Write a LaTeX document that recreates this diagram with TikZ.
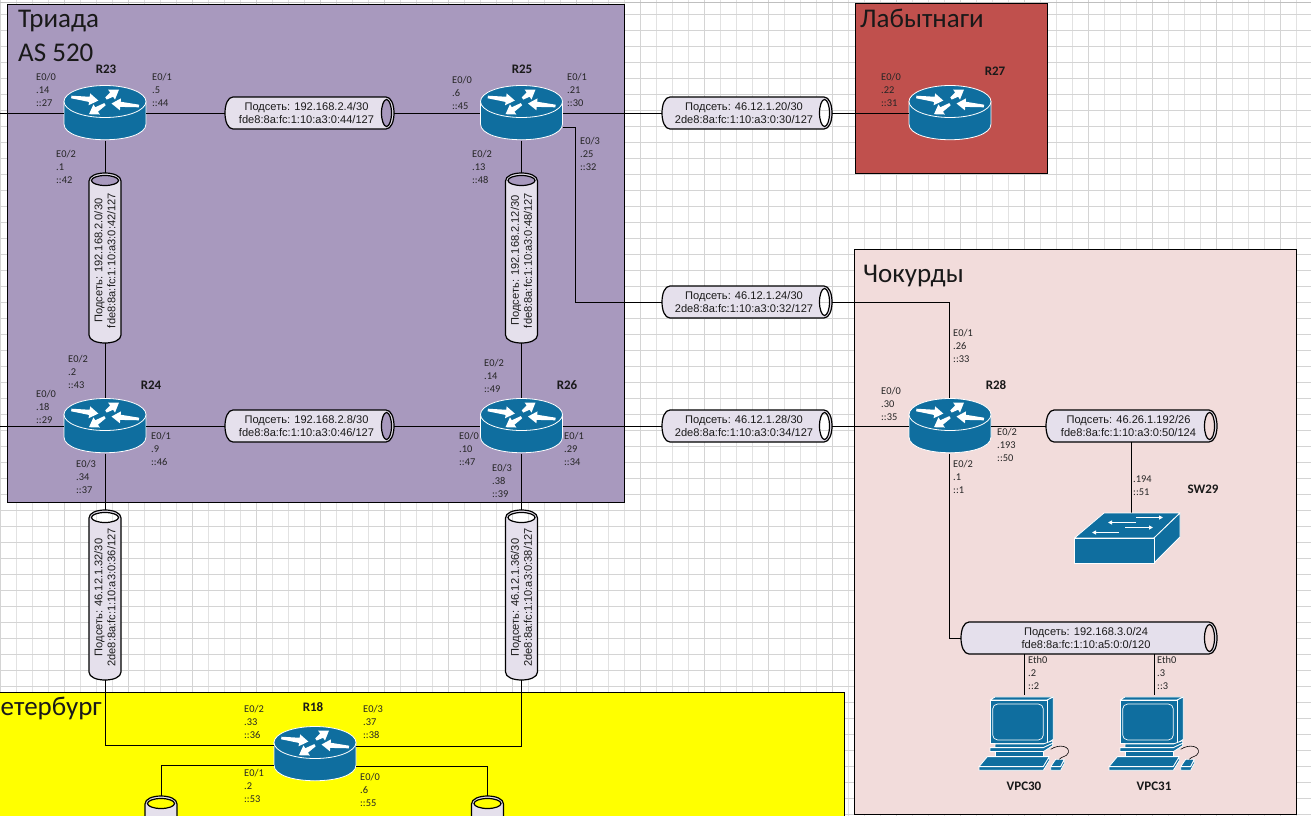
\documentclass[tikz,border=0pt]{standalone}
\usepackage{fontspec}
\setmainfont{Liberation Sans}
\newfontfamily\calf{Carlito}
\usetikzlibrary{arrows.meta,calc}
\definecolor{triadac}{HTML}{A899BE}
\definecolor{labc}{HTML}{C0504D}
\definecolor{chokc}{HTML}{F2DCDB}
\definecolor{petc}{HTML}{FFFF00}
\definecolor{cylc}{HTML}{E5E0EC}
\definecolor{ciscoc}{HTML}{0F6E9F}
\definecolor{gridc}{HTML}{E2E2E2}
\definecolor{griddark}{HTML}{D4D4D4}
\tikzset{
  region/.style={draw=black,line width=0.9pt},
  title/.style={font=\calf\fontsize{27}{30}\selectfont,anchor=west,inner sep=0pt,text=black!90},
  conn/.style={draw=black,line width=0.95pt},
  cylbody/.style={draw=black,line width=1.2pt,fill=cylc,even odd rule},
  cyltext/.style={font=\fontsize{11.1}{13}\selectfont,align=center,inner sep=0pt,text=black!90},
  cylbox/.style={inner sep=0pt,draw=none},
  devbox/.style={inner sep=0pt,draw=none},
  icon/.style={fill=ciscoc,draw=white,line width=0.8pt,line join=round},
  swarrow/.style={white,line width=1pt,-{Triangle[length=4pt,width=4pt]}},
  port/.style={font=\calf\fontsize{10.4}{13}\selectfont,align=left,anchor=north west,inner sep=0pt,text=black!85},
  devname/.style={font=\calf\bfseries\fontsize{13}{15}\selectfont,inner sep=0pt,text=black!90},
}
% tapered white arrow of a router: tail, tip
\newcommand{\tarrow}[2]{%
  \coordinate (tA) at #1;
  \coordinate (tB) at #2;
  \coordinate (tN) at ($(tB)!9pt!(tA)$);
  \fill[white] ($(tA)!1.3pt!90:(tB)$) -- ($(tN)!2.6pt!90:(tB)$) -- ($(tN)!6pt!90:(tB)$)
     -- (tB) -- ($(tN)!6pt!-90:(tB)$) -- ($(tN)!2.6pt!-90:(tB)$) -- ($(tA)!1.3pt!-90:(tB)$) -- cycle;
}
% router: name, centre x, centre y
\newcommand{\router}[3]{%
  \node (#1) [devbox,minimum width=82pt,minimum height=55pt] at (#2,#3) {};
  \filldraw[icon] (#2-41,#3-11.5) -- (#2-41,#3+11)
     .. controls (#2-41,#3+32) and (#2+41,#3+32) .. (#2+41,#3+11)
     -- (#2+41,#3-11.5) -- cycle;
  \filldraw[icon] (#2,#3-11.5) ellipse[x radius=41pt,y radius=16pt];
  \tarrow{(#2-33.7,#3-16)}{(#2-6.7,#3-12.5)}
  \tarrow{(#2+1,#3-14.5)}{(#2+14,#3-23.5)}
  \tarrow{(#2+34,#3-7)}{(#2+6.5,#3-9.5)}
  \tarrow{(#2,#3-8.8)}{(#2-16,#3+1.2)}
}
% horizontal cylinder: name, x1, x2, yc, line1, line2
\newcommand{\hcyl}[6]{%
  \node (#1) [cylbox,minimum width={(#3)-(#2)},minimum height=32pt] at ({((#2)+(#3))/2},#4) {};
  \path[cylbody] (#2+8,#4-16) -- (#3-8,#4-16)
     .. controls (#3+2.67,#4-16) and (#3+2.67,#4+16) .. (#3-8,#4+16)
     -- (#2+8,#4+16)
     .. controls (#2-2.67,#4+16) and (#2-2.67,#4-16) .. (#2+8,#4-16) -- cycle
     (#3-7.5,#4) ellipse[x radius=5pt,y radius=13.5pt];
  \node (#1t) [cyltext] at ({((#2)+(#3))/2-3},#4) {#5\\#6};
}
% vertical cylinder body: name, xc, y1, y2
\newcommand{\vcylbody}[4]{%
  \node (#1) [cylbox,minimum width=32pt,minimum height={(#4)-(#3)}] at (#2,{((#3)+(#4))/2}) {};
  \path[cylbody] (#2-16,#3+8) .. controls (#2-16,#3-2.67) and (#2+16,#3-2.67) .. (#2+16,#3+8)
     -- (#2+16,#4-8)
     .. controls (#2+16,#4+2.67) and (#2-16,#4+2.67) .. (#2-16,#4-8) -- cycle
     (#2,#3+7.5) ellipse[x radius=13.5pt,y radius=5pt];
}
\newcommand{\vcyl}[6]{%
  \vcylbody{#1}{#2}{#3}{#4}
  \node (#1t) [cyltext,rotate=90] at (#2,{((#3)+(#4))/2+2.5}) {#5\\#6};
}
% PC icon: name, dx (coordinates in 3x units of the first PC)
\newcommand{\pcicon}[2]{%
  \node (#1) [devbox,minimum width=90pt,minimum height=73pt] at (#2+1024-3,732) {};
  \begin{scope}[shift={(#2+960,400)},x=0.3333pt,y=-0.3333pt]
    \filldraw[icon] (90,900) -- (105,891) -- (280,891) -- (262,900) -- cycle;
    \filldraw[icon] (262,900) -- (280,891) -- (280,1018) -- (262,1030) -- cycle;
    \filldraw[icon] (90,900) rectangle (262,1030);
    \draw[white,line width=0.7pt,rounded corners=5pt] (98,912) rectangle (250,1020);
    \filldraw[icon] (105,1032) -- (250,1032) -- (278,1022) -- (278,1030) -- (250,1043) -- (105,1043) -- cycle;
    \filldraw[icon] (90,1043) -- (250,1043) -- (278,1030) -- (278,1037) -- (250,1055) -- (90,1055) -- cycle;
    \filldraw[icon] (105,1055) rectangle (250,1068);
    \filldraw[icon] (82,1070) -- (268,1070) -- (250,1100) -- (57,1100) -- cycle;
    \filldraw[icon] (57,1100) -- (250,1100) -- (268,1070) -- (268,1082) -- (250,1111) -- (57,1111) -- cycle;
    \filldraw[icon] (287,1078) -- (313,1078) -- (302,1100) -- (272,1100) -- cycle;
    \filldraw[icon] (272,1100) -- (302,1100) -- (313,1078) -- (313,1090) -- (302,1111) -- (272,1111) -- cycle;
    \draw[black,line width=0.6pt] (272,1048) .. controls (300,1030) and (330,1040) .. (325,1058) .. controls (320,1072) and (305,1068) .. (298,1078);
  \end{scope}
}
\begin{document}
\begin{tikzpicture}[x=1pt,y=-1pt]
\useasboundingbox (0,0) rectangle (1311,816);
\fill[white] (0,0) rectangle (1311,816);
% sheet grid
\foreach \k in {0,...,81} {\draw[gridc,line width=0.7pt] (0.5+16*\k,0) -- (0.5+16*\k,816);}
\foreach \k in {0,4,...,80} {\draw[griddark,line width=0.8pt] (0.5+16*\k,0) -- (0.5+16*\k,816);}
\foreach \k in {0,...,50} {\draw[griddark,line width=0.7pt] (0,14.5+16*\k) -- (1311,14.5+16*\k);}
\draw[griddark!90!black,line width=1.2pt] (0,2.5) -- (1311,2.5);
% regions
\draw[region,fill=triadac] (7.5,4) rectangle (624,502);
\draw[region,fill=labc] (855,3) rectangle (1047,173);
\draw[region,fill=chokc] (854.5,249) rectangle (1296,814);
\draw[region,fill=petc] (-5,692) rectangle (844,830);
\node (ttri) [title] at (18,21) {Триада};
\node (tas) [title] at (18,53) {AS 520};
\node (tlab) [title] at (860,18) {Лабытнаги};
\node (tcho) [title] at (863,276) {Чокурды};
\node (tpet) [title] at (0.5,708) {етербург};
% devices
\node (sw) [devbox,minimum width=106pt,minimum height=50pt] at (1127,538) {};
\router{r23}{105}{113}
\router{r25}{521.5}{113}
\router{r27}{950}{113}
\router{r24}{105}{426}
\router{r26}{521.5}{426}
\router{r28}{950}{426}
\router{r18}{315}{754}
% subnets
\hcyl{c1}{225}{394}{113}{Подсеть: 192.168.2.4/30}{fde8:8a:fc:1:10:a3:0:44/127}
\hcyl{c2}{225}{394}{426}{Подсеть: 192.168.2.8/30}{fde8:8a:fc:1:10:a3:0:46/127}
\hcyl{c3}{662}{832}{113}{Подсеть: 46.12.1.20/30}{2de8:8a:fc:1:10:a3:0:30/127}
\hcyl{c4}{662}{832}{302}{Подсеть: 46.12.1.24/30}{2de8:8a:fc:1:10:a3:0:32/127}
\hcyl{c5}{662}{832}{426}{Подсеть: 46.12.1.28/30}{2de8:8a:fc:1:10:a3:0:34/127}
\hcyl{c6}{1046}{1217}{426}{Подсеть: 46.26.1.192/26}{fde8:8a:fc:1:10:a3:0:50/124}
\hcyl{c7}{961}{1217}{638}{Подсеть: 192.168.3.0/24}{fde8:8a:fc:1:10:a5:0:0/120}
\vcyl{v1}{105}{173}{343}{Подсеть: 192.168.2.0/30}{fde8:8a:fc:1:10:a3:0:42/127}
\vcyl{v2}{521.5}{173}{343}{Подсеть: 192.168.2.12/30}{fde8:8a:fc:1:10:a3:0:48/127}
\vcyl{v3}{105}{510}{680}{Подсеть: 46.12.1.32/30}{2de8:8a:fc:1:10:a3:0:36/127}
\vcyl{v4}{521.5}{510}{680}{Подсеть: 46.12.1.36/30}{2de8:8a:fc:1:10:a3:0:38/127}
\vcylbody{v5}{161}{796}{966}
\vcylbody{v6}{487.5}{796}{966}
% connectors
\coordinate (w23) at (0,113);
\coordinate (w24) at (0,426);
\coordinate (j25) at (575,127);
\coordinate (j28) at (949,302);
\coordinate (j28b) at (949,638);
\coordinate (jv3) at (105,745);
\coordinate (jv4) at (521.5,746);
\coordinate (jv5) at (161,765);
\coordinate (jv6) at (487.5,766);
\draw[conn] (w23) -- (r23.west);
\draw[conn] (w24) -- (r24.west);
\draw[conn] (r23.east) -- (c1.west);
\draw[conn] (c1.east) -- (r25.west);
\draw[conn] (r25.east) -- (c3.west);
\draw[conn] (c3.east) -- (r27.west);
\draw[conn] (r24.east) -- (c2.west);
\draw[conn] (c2.east) -- (r26.west);
\draw[conn] (r26.east) -- (c5.west);
\draw[conn] (c5.east) -- (r28.west);
\draw[conn] (r23.south) -- (v1.north);
\draw[conn] (v1.south) -- (r24.north);
\draw[conn] (r25.south) -- (v2.north);
\draw[conn] (v2.south) -- (r26.north);
\draw[conn] (r24.south) -- (v3.north);
\draw[conn] (r26.south) -- (v4.north);
\draw[conn] ([yshift=-14pt]r25.east) -- (j25) -- (j25 |- c4.west) -- (c4.west);
\draw[conn] (c4.east) -- (j28) -- (j28 |- r28.north);
\draw[conn] (r28.east) -- (c6.west);
\draw[conn] (c6.south) -- (c6.south |- sw.north);
\draw[conn] (j28 |- r28.south) -- (j28b) -- (c7.west);
\node (pc1) [devbox,minimum width=1pt,minimum height=1pt] at (1024,696) {};
\node (pc2) [devbox,minimum width=1pt,minimum height=1pt] at (1154,696) {};
\draw[conn] (pc1 |- c7.south) -- (pc1);
\draw[conn] (pc2 |- c7.south) -- (pc2);
\draw[conn] (v3.south) -- (jv3) -- (jv3 -| r18.west);
\draw[conn] (v4.south) -- (jv4) -- (jv4 -| r18.east);
\draw[conn] (jv5 -| r18.west) -- (jv5) -- (v5.north);
\draw[conn] (jv6 -| r18.east) -- (jv6) -- (v6.north);
% switch icon
\filldraw[icon] (1074.5,538) -- (1104,513) -- (1180,513) -- (1154,538) -- cycle;
\filldraw[icon] (1154,538) -- (1180,513) -- (1180,537) -- (1154,563) -- cycle;
\filldraw[icon] (1074.5,538) rectangle (1154,563);
\draw[swarrow] (1136,517.5) -- (1163,517.5);
\draw[swarrow] (1136,522.5) -- (1108,522.5);
\draw[swarrow] (1125,527.5) -- (1153,527.5);
\draw[swarrow] (1119,532.5) -- (1092,532.5);
\pcicon{vpc30i}{0}
\pcicon{vpc31i}{130}
% device names
\node (n23) [devname] at (106,69) {R23};
\node (n25) [devname] at (522,69) {R25};
\node (n27) [devname] at (995,71) {R27};
\node (n24) [devname] at (151,385) {R24};
\node (n26) [devname] at (567,385) {R26};
\node (n28) [devname] at (996,385) {R28};
\node (n18) [devname] at (313,707) {R18};
\node (n29) [devname] at (1203,489) {SW29};
\node (n30) [devname] at (1024,786) {VPC30};
\node (n31) [devname] at (1154,786) {VPC31};
% port labels
\node (p1) [port] at (36,73) {E0/0\\.14\\::27};
\node (p2) [port] at (152,73) {E0/1\\.5\\::44};
\node (p3) [port] at (56,150) {E0/2\\.1\\::42};
\node (p4) [port] at (452,76) {E0/0\\.6\\::45};
\node (p5) [port] at (567,73) {E0/1\\.21\\::30};
\node (p6) [port] at (472,150) {E0/2\\.13\\::48};
\node (p7) [port] at (580,137) {E0/3\\.25\\::32};
\node (p8) [port] at (881,73) {E0/0\\.22\\::31};
\node (p9) [port] at (68,355) {E0/2\\.2\\::43};
\node (p10) [port] at (36,390) {E0/0\\.18\\::29};
\node (p11) [port] at (151,432) {E0/1\\.9\\::46};
\node (p12) [port] at (76,460) {E0/3\\.34\\::37};
\node (p13) [port] at (484,359) {E0/2\\.14\\::49};
\node (p14) [port] at (459,432) {E0/0\\.10\\::47};
\node (p15) [port] at (564,432) {E0/1\\.29\\::34};
\node (p16) [port] at (492,464) {E0/3\\.38\\::39};
\node (p17) [port] at (953,329) {E0/1\\.26\\::33};
\node (p18) [port] at (881,387) {E0/0\\.30\\::35};
\node (p19) [port] at (997,428) {E0/2\\.193\\::50};
\node (p20) [port] at (953,460) {E0/2\\.1\\::1};
\node (p21) [port] at (1133,476) {.194\\::51};
\node (p22) [port] at (1028,656) {Eth0\\.2\\::2};
\node (p23) [port] at (1157,656) {Eth0\\.3\\::3};
\node (p24) [port] at (244,705) {E0/2\\.33\\::36};
\node (p25) [port] at (363,705) {E0/3\\.37\\::38};
\node (p26) [port] at (244,769) {E0/1\\.2\\::53};
\node (p27) [port] at (360,773) {E0/0\\.6\\::55};
\end{tikzpicture}
\end{document}
